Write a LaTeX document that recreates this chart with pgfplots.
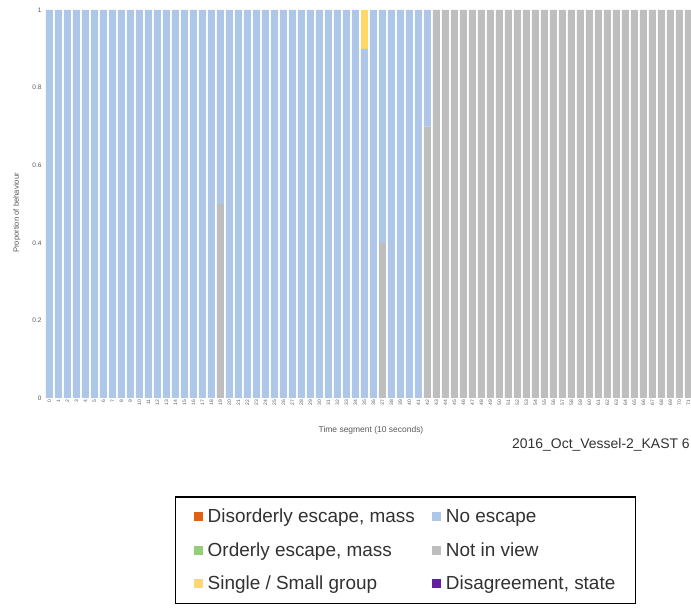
\documentclass[border=0pt]{standalone}
\usepackage{pgfplots}
\pgfplotsset{compat=1.18}
\usepackage{pgfplotstable}
\usepackage{fontspec}
\setmainfont{Liberation Sans}
\definecolor{cBlue}{RGB}{174,199,232}
\definecolor{cGrey}{RGB}{190,190,190}
\definecolor{cYellow}{RGB}{255,217,102}
\definecolor{cOrange}{RGB}{224,97,22}
\definecolor{cGreen}{RGB}{150,205,120}
\definecolor{cPurple}{RGB}{100,30,160}
\definecolor{cText}{RGB}{89,89,89}
\definecolor{cDark}{RGB}{50,50,50}
\pgfplotstableread{
x grey blue yellow
0 0 1 0
1 0 1 0
2 0 1 0
3 0 1 0
4 0 1 0
5 0 1 0
6 0 1 0
7 0 1 0
8 0 1 0
9 0 1 0
10 0 1 0
11 0 1 0
12 0 1 0
13 0 1 0
14 0 1 0
15 0 1 0
16 0 1 0
17 0 1 0
18 0 1 0
19 0.5 0.5 0
20 0 1 0
21 0 1 0
22 0 1 0
23 0 1 0
24 0 1 0
25 0 1 0
26 0 1 0
27 0 1 0
28 0 1 0
29 0 1 0
30 0 1 0
31 0 1 0
32 0 1 0
33 0 1 0
34 0 1 0
35 0 0.9 0.1
36 0 1 0
37 0.4 0.6 0
38 0 1 0
39 0 1 0
40 0 1 0
41 0 1 0
42 0.7 0.3 0
43 1 0 0
44 1 0 0
45 1 0 0
46 1 0 0
47 1 0 0
48 1 0 0
49 1 0 0
50 1 0 0
51 1 0 0
52 1 0 0
53 1 0 0
54 1 0 0
55 1 0 0
56 1 0 0
57 1 0 0
58 1 0 0
59 1 0 0
60 1 0 0
61 1 0 0
62 1 0 0
63 1 0 0
64 1 0 0
65 1 0 0
66 1 0 0
67 1 0 0
68 1 0 0
69 1 0 0
70 1 0 0
71 1 0 0
}\data
\pgfplotsset{sq/.style={legend image code/.code={\fill[##1, draw=none] (0bp,-4.5bp) rectangle (9bp,4.5bp);}}}
\begin{document}
\begin{tikzpicture}
\path[use as bounding box] (0,0) rectangle (691bp,608bp);
\begin{axis}[
  at={(45bp,210bp)}, anchor=south west,
  scale only axis, width=646bp, height=388bp,
  ybar stacked, bar width=7bp,
  xmin=-0.5, xmax=71.28, ymin=0, ymax=1,
  axis line style={draw=none}, tick style={draw=none},
  /pgf/number format/assume math mode=true,
  xtick={0,...,71},
  xticklabel style={rotate=90, anchor=east, font=\fontsize{5}{6}\selectfont, text=cText, inner sep=1.5bp},
  ytick={0,0.2,0.4,0.6,0.8,1},
  yticklabel style={font=\fontsize{6.5}{7}\selectfont, text=cText},
  legend columns=2,
  legend cell align=left,
  legend style={at={(0.2012,-0.2526)}, anchor=north west, draw=black, line width=1.5bp,
    font=\fontsize{19}{22}\selectfont, text=cDark, inner xsep=18bp, inner ysep=10.5bp,
    row sep=14bp,
    /tikz/every odd column/.append style={column sep=3bp},
    /tikz/every even column/.append style={column sep=15bp}},
]
\addplot[fill=cGrey, draw=none, forget plot] table[x=x,y=grey]{\data};
\addplot[fill=cBlue, draw=none, forget plot] table[x=x,y=blue]{\data};
\addplot[fill=cYellow, draw=none, forget plot] table[x=x,y=yellow]{\data};
\addlegendimage{sq, fill=cOrange}\addlegendentry{Disorderly escape, mass}
\addlegendimage{sq, fill=cBlue}\addlegendentry{No escape}
\addlegendimage{sq, fill=cGreen}\addlegendentry{Orderly escape, mass}
\addlegendimage{sq, fill=cGrey}\addlegendentry{Not in view}
\addlegendimage{sq, fill=cYellow}\addlegendentry{Single / Small group}
\addlegendimage{sq, fill=cPurple}\addlegendentry{Disagreement, state}
\end{axis}
\node[font=\fontsize{8.5}{10}\selectfont, text=cText] at (371bp,178bp) {Time segment (10 seconds)};
\node[font=\fontsize{14}{16}\selectfont, text=cDark, anchor=west, inner sep=0pt] at (512bp,163bp) {2016\_Oct\_Vessel-2\_KAST 6};
\node[rotate=90, font=\fontsize{7.7}{9}\selectfont, text=cText] at (17bp,395bp) {Proportion of behaviour};
\end{tikzpicture}
\end{document}
